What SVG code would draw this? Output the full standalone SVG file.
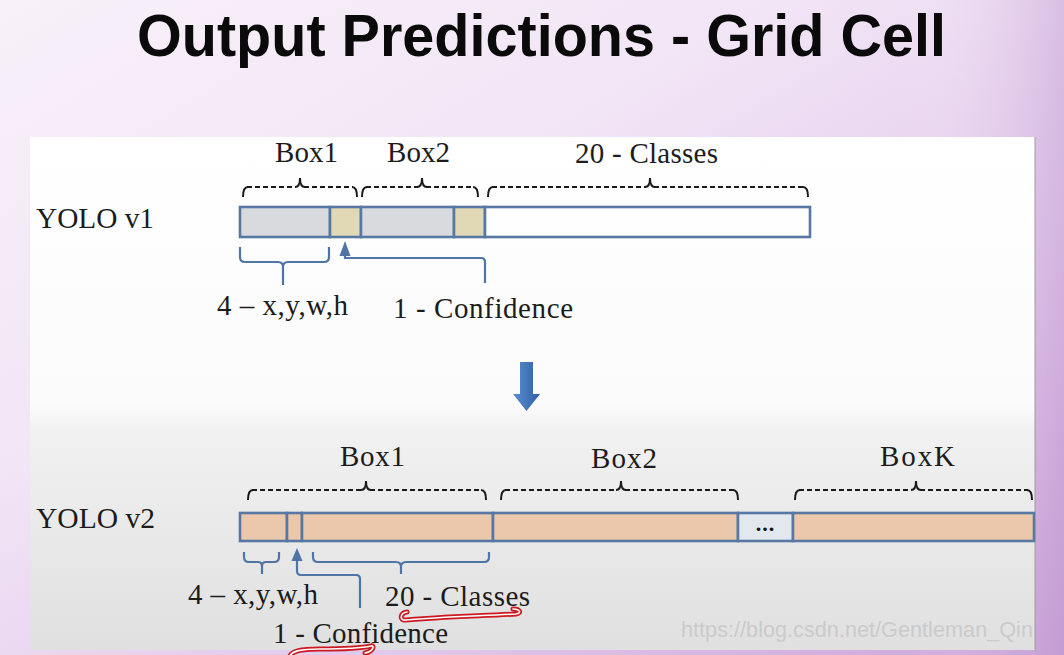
<svg xmlns="http://www.w3.org/2000/svg" width="1064" height="655" viewBox="0 0 1064 655">
  <defs>
    <linearGradient id="bg" x1="0" y1="0" x2="600" y2="1000" gradientUnits="userSpaceOnUse">
      <stop offset="0" stop-color="#f8f1f9"/>
      <stop offset="0.35" stop-color="#f2e5f6"/>
      <stop offset="0.65" stop-color="#e2c8eb"/>
      <stop offset="1" stop-color="#c69ed6"/>
    </linearGradient>
    <linearGradient id="side" x1="0" y1="0" x2="1" y2="0">
      <stop offset="0" stop-color="#ffffff" stop-opacity="0"/>
      <stop offset="1" stop-color="#b78cc9" stop-opacity="0.35"/>
    </linearGradient>
    <linearGradient id="panel" x1="0" y1="137" x2="0" y2="650" gradientUnits="userSpaceOnUse">
      <stop offset="0" stop-color="#ffffff"/>
      <stop offset="0.52" stop-color="#fbfbfb"/>
      <stop offset="0.57" stop-color="#f1f1f1"/>
      <stop offset="1" stop-color="#e0e0e0"/>
    </linearGradient>
    <linearGradient id="downArrow" x1="0" y1="0" x2="1" y2="0">
      <stop offset="0" stop-color="#5b8fd0"/>
      <stop offset="1" stop-color="#2f5fa5"/>
    </linearGradient>
    <style>
      .title { font-family: "Liberation Sans", Arial, sans-serif; font-weight: bold; font-size: 60px; fill: #0a0a0a; }
      .lbl { font-family: "Liberation Serif", "Times New Roman", serif; font-size: 29px; fill: #1c1c1c; }
      .row { font-family: "Liberation Serif", "Times New Roman", serif; font-size: 29px; fill: #1c1c1c; }
      .seg { stroke: #5878a4; stroke-width: 2.6; }
      .gray { fill: #d9dade; }
      .tan { fill: #e1d8b6; }
      .white { fill: #fefefe; }
      .peach { fill: #ebc7ab; }
      .dots { fill: #e3e8ef; }
      .dash { fill: none; stroke: #1a1a1a; stroke-width: 2; stroke-dasharray: 5 3; }
      .bend { fill: none; stroke: #1a1a1a; stroke-width: 2; }
      .blue { fill: none; stroke: #4f74a6; stroke-width: 2.2; }
      .ahead { fill: #4f74a6; }
      .wm { font-family: "Liberation Sans", Arial, sans-serif; font-size: 22px; fill: #cbcbcb; }
      .redOut { fill: none; stroke: #cc1820; stroke-width: 5; stroke-linecap: round; }
      .redIn { fill: none; stroke: #ffffff; stroke-width: 1.6; stroke-linecap: round; }
    </style>
  </defs>

  <rect x="0" y="0" width="1064" height="655" fill="url(#bg)"/>
  <rect x="900" y="0" width="164" height="655" fill="url(#side)"/>
  <rect id="panel" x="30" y="137" width="1005" height="513" fill="url(#panel)"/>
  <line x1="1035" y1="137" x2="1035" y2="650" stroke="#9c9c9c" stroke-width="1"/>

  <g id="title">
    <text class="title" x="137" y="56" textLength="809" lengthAdjust="spacingAndGlyphs">Output Predictions - Grid Cell</text>
  </g>

  <!-- YOLO v1 -->
  <g id="label-yolo-v1">
    <text class="row" x="36" y="228" textLength="118" lengthAdjust="spacingAndGlyphs">YOLO v1</text>
  </g>
  <g id="bar-v1">
    <rect class="seg gray" x="240" y="207" width="90" height="30"/>
    <rect class="seg tan" x="330" y="207" width="31" height="30"/>
    <rect class="seg gray" x="361" y="207" width="93" height="30"/>
    <rect class="seg tan" x="454" y="207" width="31" height="30"/>
    <rect class="seg white" x="485" y="207" width="325" height="30"/>
  </g>
  <g id="v1-box1-label"><text class="lbl" x="275" y="162" textLength="63">Box1</text></g>
  <g id="v1-box2-label"><text class="lbl" x="387" y="162" textLength="63">Box2</text></g>
  <g id="v1-classes-label"><text class="lbl" x="575" y="163" textLength="143">20 - Classes</text></g>
  <g id="v1-xywh-label"><text class="lbl" x="217" y="315" textLength="131">4 – x,y,w,h</text></g>
  <g id="v1-conf-label"><text class="lbl" x="393" y="318" textLength="180">1 - Confidence</text></g>

  <!-- YOLO v2 -->
  <g id="label-yolo-v2">
    <text class="row" x="36" y="528" textLength="119" lengthAdjust="spacingAndGlyphs">YOLO v2</text>
  </g>
  <g id="bar-v2">
    <rect class="seg peach" x="240" y="513" width="47" height="28"/>
    <rect class="seg peach" x="287" y="513" width="15" height="28"/>
    <rect class="seg peach" x="302" y="513" width="191" height="28"/>
    <rect class="seg peach" x="493" y="513" width="245" height="28"/>
    <rect class="seg dots" x="738" y="513" width="55" height="28"/>
    <rect class="seg peach" x="793" y="513" width="241" height="28"/>
    <text x="765.5" y="531" text-anchor="middle" font-family="Liberation Serif, serif" font-weight="bold" font-size="22" letter-spacing="1" fill="#111">...</text>
  </g>
  <g id="v2-box1-label"><text class="lbl" x="340" y="466" textLength="65">Box1</text></g>
  <g id="v2-box2-label"><text class="lbl" x="591" y="468" textLength="66">Box2</text></g>
  <g id="v2-boxk-label"><text class="lbl" x="880" y="466" textLength="75">BoxK</text></g>
  <g id="v2-xywh-label"><text class="lbl" x="188" y="604" textLength="130">4 – x,y,w,h</text></g>
  <g id="v2-classes-label"><text class="lbl" x="385" y="606" textLength="145">20 - Classes</text></g>
  <g id="v2-conf-label"><text class="lbl" x="273" y="643" textLength="175">1 - Confidence</text></g>

  <!-- Down arrow between rows -->
  <g id="down-arrow">
    <path d="M520,362 H533 V394 H540 L526.5,411 L513,394 H520 Z" fill="url(#downArrow)"/>
  </g>

  <g id="connectors">
    <!-- v1 top braces -->
    <g id="brace-v1-box1">
      <path class="dash" d="M247,187 H296 M304,187 H353"/>
      <path class="bend" d="M243,197 Q243,187 248,187 M352,187 Q357,187 357,197 M295,187 Q300,187 300,178 Q300,187 305,187"/>
    </g>
    <g id="brace-v1-box2">
      <path class="dash" d="M366,187 H418 M426,187 H474"/>
      <path class="bend" d="M362,197 Q362,187 367,187 M473,187 Q478,187 478,197 M417,187 Q422,187 422,178 Q422,187 427,187"/>
    </g>
    <g id="brace-v1-classes">
      <path class="dash" d="M492,187 H646 M654,187 H804"/>
      <path class="bend" d="M488,197 Q488,187 493,187 M803,187 Q808,187 808,197 M645,187 Q650,187 650,178 Q650,187 655,187"/>
    </g>
    <!-- v1 bottom braces / arrow -->
    <path class="blue" d="M240,247 V257 Q240,262 245,262 H278 Q283,262 283,267 V285 M283,267 Q283,262 288,262 H324 Q329,262 329,257 V247"/>
    <polygon class="ahead" points="345,241 339.5,256 350.5,256"/>
    <path class="blue" d="M345,255 V258 H481 Q485,258 485,262 V283"/>

    <!-- v2 top braces -->
    <g id="brace-v2-box1">
      <path class="dash" d="M252,490 H362 M370,490 H482"/>
      <path class="bend" d="M248,500 Q248,490 253,490 M481,490 Q486,490 486,500 M361,490 Q366,490 366,481 Q366,490 371,490"/>
    </g>
    <g id="brace-v2-box2">
      <path class="dash" d="M505,490 H617 M625,490 H734"/>
      <path class="bend" d="M501,500 Q501,490 506,490 M733,490 Q738,490 738,500 M616,490 Q621,490 621,481 Q621,490 626,490"/>
    </g>
    <g id="brace-v2-boxk">
      <path class="dash" d="M799,490 H912 M920,490 H1028"/>
      <path class="bend" d="M795,500 Q795,490 800,490 M1027,490 Q1032,490 1032,500 M911,490 Q916,490 916,481 Q916,490 921,490"/>
    </g>
    <!-- v2 bottom braces / arrow -->
    <path class="blue" d="M244,552 V557 Q244,562 249,562 H258 Q262,562 262,566 V574 M262,566 Q262,562 266,562 H274 Q279,562 279,557 V552"/>
    <path class="blue" d="M313,552 V557 Q313,562 318,562 H396 Q401,562 401,567 V574 M401,567 Q401,562 406,562 H484 Q489,562 489,557 V552"/>
    <polygon class="ahead" points="297,548 291.5,561 302.5,561"/>
    <path class="blue" d="M297,560 V571 Q297,575 301,575 H356 Q360,575 360,579 V608"/>
  </g>

  <!-- hand-drawn red underlines -->
  <g id="annotations">
    <path class="redOut" d="M407,612 C400,613 399,621 406,620 C440,617 480,616 516,614 C522,613 520,609 513,609"/>
    <path class="redIn" d="M407,612 C400,613 399,621 406,620 C440,617 480,616 516,614 C522,613 520,609 513,609"/>
    <path class="redOut" d="M290,656 C292,651 300,649 320,649 C345,649 362,648 371,646 C375,645 373,652 365,653"/>
    <path class="redIn" d="M290,656 C292,651 300,649 320,649 C345,649 362,648 371,646 C375,645 373,652 365,653"/>
  </g>

  <g id="watermark">
    <text class="wm" x="681" y="637" textLength="352" lengthAdjust="spacingAndGlyphs">https://blog.csdn.net/Gentleman_Qin</text>
  </g>
</svg>
